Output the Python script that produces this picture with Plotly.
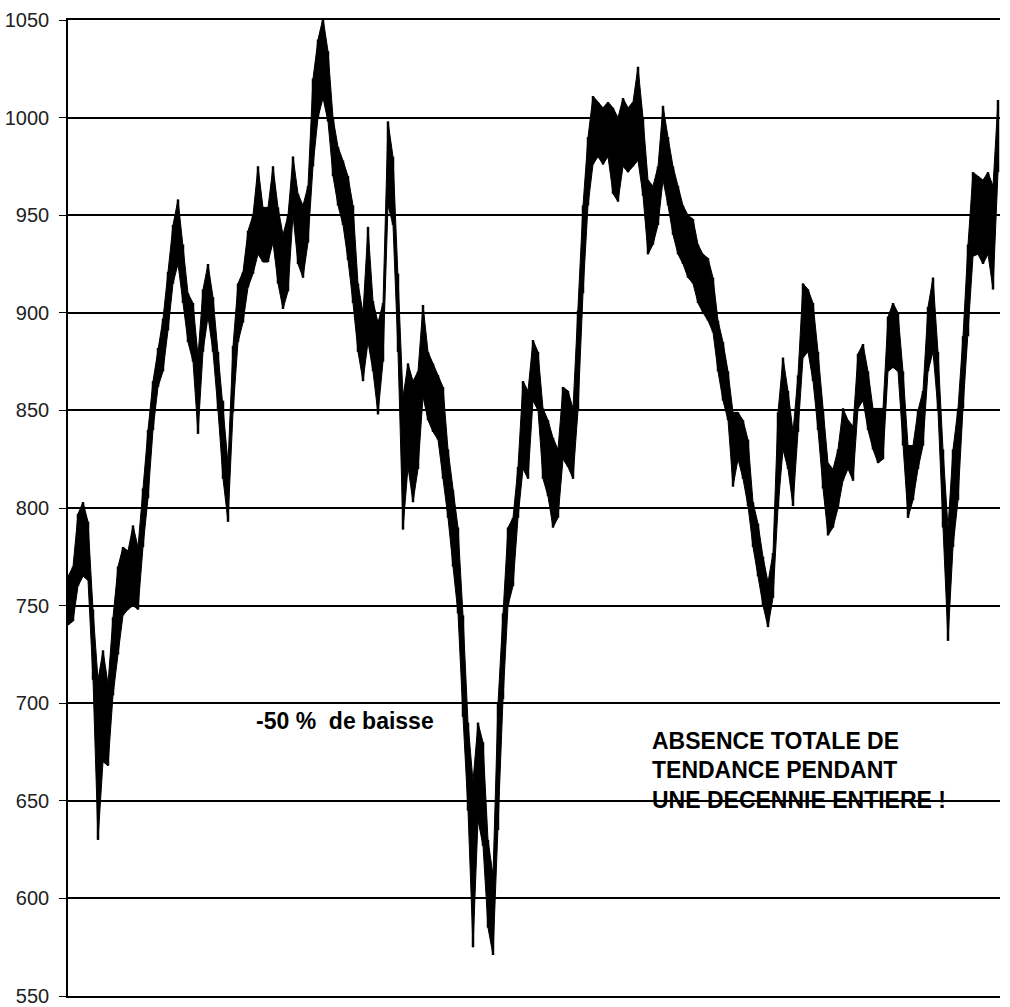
import plotly.graph_objects as go

low = [740, 742, 760, 765, 763, 712, 630, 670, 668, 704,
       725, 745, 748, 750, 748, 780, 805, 840, 862, 870,
       891, 915, 925, 905, 885, 875, 838, 880, 898, 880,
       850, 815, 793, 849, 885, 895, 913, 920, 930, 926,
       926, 936, 915, 902, 911, 950, 925, 918, 936, 975,
       1000, 1010, 998, 970, 955, 945, 927, 905, 880, 865,
       885, 870, 848, 875, 955, 945, 880, 789, 821, 803,
       820, 857, 845, 839, 835, 815, 795, 770, 746, 693,
       645, 575, 640, 627, 585, 571, 635, 702, 750, 760,
       795, 820, 815, 855, 850, 815, 806, 790, 795, 825,
       821, 815, 850, 910, 955, 976, 980, 976, 980, 961,
       957, 975, 972, 975, 978, 960, 930, 935, 945, 968,
       955, 940, 930, 925, 918, 915, 905, 900, 896, 890,
       870, 855, 845, 811, 825, 815, 801, 780, 765, 750,
       739, 754, 800, 830, 820, 801, 839, 877, 880, 865,
       840, 810, 786, 790, 800, 814, 820, 814, 851, 855,
       840, 830, 823, 825, 870, 872, 870, 832, 795, 804,
       820, 832, 870, 880, 850, 790, 732, 780, 804, 851,
       888, 929, 930, 925, 930, 912, 972]
high = [765, 770, 797, 803, 793, 748, 712, 727, 710, 744,
        770, 780, 778, 791, 780, 810, 840, 865, 882, 897,
        921, 945, 958, 935, 910, 905, 878, 912, 925, 908,
        880, 855, 823, 883, 915, 921, 942, 950, 975, 954,
        954, 975, 954, 940, 950, 980, 961, 955, 965, 1020,
        1040, 1051, 1034, 1000, 985, 978, 970, 955, 915, 900,
        944, 906, 895, 905, 998, 980, 920, 857, 874, 865,
        870, 904, 880, 874, 868, 862, 830, 809, 790, 745,
        690, 660, 690, 680, 630, 612, 700, 746, 790, 795,
        821, 865, 860, 886, 880, 851, 845, 836, 830, 862,
        860, 851, 901, 955, 990, 1011, 1008, 1005, 1008, 1005,
        1000, 1010, 1005, 1008, 1026, 1000, 968, 965, 975, 1006,
        990, 975, 965, 955, 950, 948, 935, 930, 928, 918,
        896, 885, 870, 849, 849, 845, 835, 803, 792, 775,
        762, 777, 849, 877, 860, 839, 868, 915, 912, 905,
        880, 850, 823, 820, 830, 851, 845, 842, 879, 884,
        870, 851, 851, 851, 898, 905, 900, 870, 832, 832,
        850, 860, 903, 918, 880, 830, 790, 830, 851, 888,
        935, 972, 970, 968, 972, 965, 1009]
sessions = list(range(len(low)))

y_ticks = [550, 600, 650, 700, 750, 800, 850, 900, 950, 1000, 1050]

notes_left = ["-50 %  de baisse"]
notes_right = ["ABSENCE TOTALE DE", "TENDANCE PENDANT", "UNE DECENNIE ENTIERE !"]

fig = go.Figure()

# filled band between lows and highs
fig.add_trace(go.Scatter(x=sessions, y=low, mode="lines",
                         line=dict(color="black", width=1), showlegend=False,
                         hoverinfo="skip"))
fig.add_trace(go.Scatter(x=sessions, y=high, mode="lines", fill="tonexty",
                         fillcolor="black", line=dict(color="black", width=1),
                         showlegend=False, hoverinfo="skip"))

# vertical high-low bars
bx, by = [], []
for s, lo, hi in zip(sessions, low, high):
    bx += [s, s, None]
    by += [lo, hi, None]
fig.add_trace(go.Scatter(x=bx, y=by, mode="lines",
                         line=dict(color="black", width=2.5), showlegend=False))

font_txt = dict(family="Liberation Sans, Arial, sans-serif", size=23, color="black")

fig.add_annotation(x=37.2, y=691, xref="x", yref="y", text="<b>%s</b>" % notes_left[0],
                   showarrow=False, xanchor="left", yanchor="middle", font=font_txt)
for t, yv in zip(notes_right, [680.6, 665.6, 650.4]):
    fig.add_annotation(x=116.4, y=yv, xref="x", yref="y", text="<b>%s</b>" % t,
                       showarrow=False, xanchor="left", yanchor="middle", font=font_txt)

fig.update_layout(
    width=1010, height=1007,
    margin=dict(l=68, r=10, t=20, b=11, autoexpand=False),
    paper_bgcolor="white", plot_bgcolor="white",
    showlegend=False,
)
fig.update_xaxes(range=[0, 186.4], showgrid=False, zeroline=False,
                 showticklabels=False, ticks="", showline=True, mirror=True,
                 linecolor="black", linewidth=1.6, automargin=False)
fig.update_yaxes(range=[550, 1050], tickvals=y_ticks,
                 ticktext=[str(v) for v in y_ticks], automargin=False,
                 showgrid=True, gridcolor="black", gridwidth=1.6,
                 zeroline=False, showline=True, linecolor="black", linewidth=1.6,
                 ticks="outside", ticklen=7, tickcolor="black", tickwidth=1.2,
                 ticklabelstandoff=6,
                 tickfont=dict(family="Liberation Sans, Arial, sans-serif",
                               size=20, color="#222222"))

fig.write_html("out.html", config={"displayModeBar": False},
               post_script="document.body.style.margin='0';document.body.style.overflow='hidden';")
